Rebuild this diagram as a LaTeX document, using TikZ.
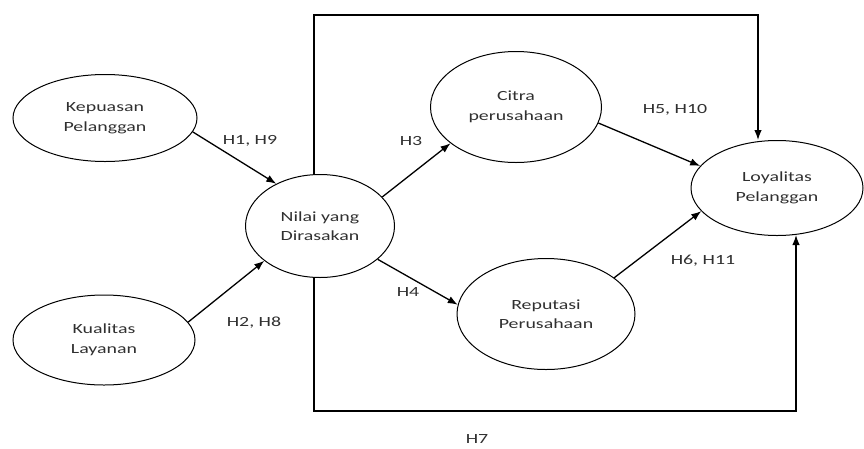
\documentclass[tikz,border=0pt]{standalone}
\usepackage{fontspec}
\setmainfont[FakeStretch=1.42]{Carlito}
\usepackage{xcolor}
\usetikzlibrary{
  arrows.meta,
  positioning,
  calc,
  shapes}
\definecolor{labelgray}{HTML}{303030}
\tikzset{every picture/.style={font issue=\fontsize{14}{19.5}},
         font issue/.style={execute at begin picture={#1\selectfont}},
         var/.style={ellipse, draw, line width=1pt, inner sep=0pt, align=center, text=labelgray},
         hyp/.style={text=labelgray, inner sep=0pt},
         link/.style={line width=1.3pt, -{Latex[length=10pt,width=7.5pt]}}
        }

\begin{document}
\begin{tikzpicture}[x=1pt, y=-1pt]
\useasboundingbox (0,0) rectangle (864,448);
%Constructs
\node[var, minimum width=184pt, minimum height=87pt] (kep) at (105,118) {Kepuasan\\Pelanggan};
\node[var, minimum width=182pt, minimum height=90pt] (kual) at (104,340) {Kualitas\\Layanan};
\node[var, minimum width=149pt, minimum height=103pt] (nilai) at (320,226) {Nilai yang\\Dirasakan};
\node[var, minimum width=171pt, minimum height=111pt] (citra) at (516,107) {Citra\\perusahaan};
\node[var, minimum width=178pt, minimum height=111pt] (rep) at (546,314) {Reputasi\\Perusahaan};
\node[var, minimum width=172pt, minimum height=95pt] (loy) at (777,188) {Loyalitas\\Pelanggan};

%Direct paths
\draw[link] (kep.-9) -- (nilai.136);
\draw[link] (kual.12) -- (nilai.212);
\draw[link] (nilai.25) -- (citra.209);
\draw[link] (nilai.-30) -- (rep.174);
\draw[link] (citra.-11) -- (loy.164);
\draw[link] (rep.28) -- (loy.197);

%H7 frame
\coordinate (tl) at (314,15);
\coordinate (tr) at (758,15);
\coordinate (bl) at (314,411);
\coordinate (br) at (796,411);
\draw[link] (tl |- nilai.north) -- (tl) -- (tr) -- (tr |- loy.north);
\draw[link] (bl |- nilai.south) -- (bl) -- (br) -- ($(br |- loy.south)+(0,-1)$);

%Hypothesis labels
\node[hyp] (h1) at (250,141) {H1, H9};
\node[hyp] (h2) at (254,323) {H2, H8};
\node[hyp] (h3) at (411,141) {H3};
\node[hyp] (h4) at (408,292) {H4};
\node[hyp] (h5) at (675,110) {H5, H10};
\node[hyp] (h6) at (703,261) {H6, H11};
\node[hyp] (h7) at (477,439) {H7};
\end{tikzpicture}
\end{document}
